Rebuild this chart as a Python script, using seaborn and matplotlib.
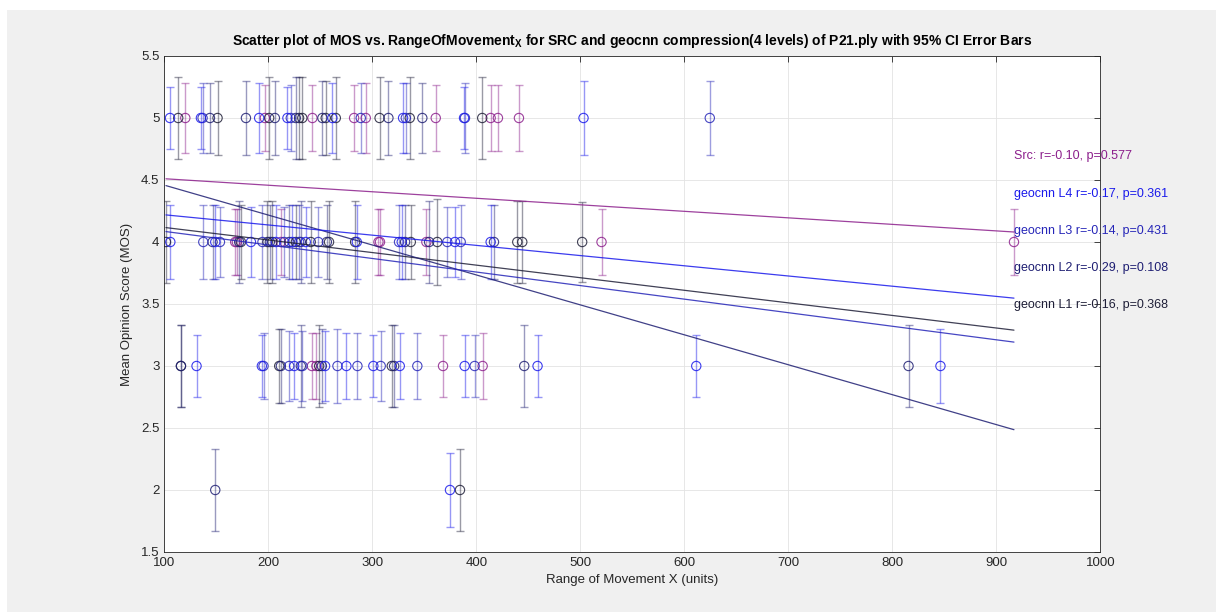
import numpy as np
import pandas as pd
import matplotlib
matplotlib.use("Agg")
import matplotlib.pyplot as plt
import seaborn as sns
from matplotlib.patches import Rectangle

# ---------------------------------------------------------------------
# MOS vs. range of movement (X) per point, grouped by compression level
# ---------------------------------------------------------------------
src_x = [120.2, 196.7, 242.4, 282.5, 293.7, 361.0, 413.8, 420.8, 441.0,
         168.2, 169.8, 212.1, 305.9, 307.4, 352.0, 520.4, 917.0,
         241.9, 246.3, 368.0, 406.1]
src_mos = [5, 5, 5, 5, 5, 5, 5, 5, 5,
           4, 4, 4, 4, 4, 4, 4, 4,
           3, 3, 3, 3]
src_ci = [0.28, 0.27, 0.27, 0.27, 0.28, 0.27, 0.27, 0.27, 0.27,
          0.27, 0.27, 0.27, 0.27, 0.27, 0.27, 0.27, 0.27,
          0.27, 0.27, 0.25, 0.27]

l1_x = [113.4, 151.2, 200.8, 229.6, 232.7, 255.2, 264.9, 307.0, 336.0, 405.7,
        101.6, 173.7, 199.2, 204.0, 226.5, 240.8, 258.4, 283.5, 337.0, 362.5,
        439.4, 444.2, 501.8,
        116.0, 210.5, 248.9, 318.7,
        384.3]
l1_mos = [5, 5, 5, 5, 5, 5, 5, 5, 5, 5,
          4, 4, 4, 4, 4, 4, 4, 4, 4, 4,
          4, 4, 4,
          3, 3, 3, 3,
          2]
l1_ci = [0.33, 0.30, 0.33, 0.33, 0.33, 0.30, 0.33, 0.33, 0.33, 0.33,
         0.33, 0.30, 0.33, 0.33, 0.30, 0.33, 0.33, 0.33, 0.30, 0.35,
         0.33, 0.33, 0.32,
         0.33, 0.30, 0.33, 0.33,
         0.33]

l2_x = [143.9, 178.5, 206.3, 226.4, 252.0, 315.5, 348.1,
        146.4, 172.0, 201.5, 220.1, 231.2, 256.3, 331.5, 354.6, 417.0,
        116.0, 212.1, 231.3, 251.5, 321.0, 446.1, 815.6,
        149.0]
l2_mos = [5, 5, 5, 5, 5, 5, 5,
          4, 4, 4, 4, 4, 4, 4, 4, 4,
          3, 3, 3, 3, 3, 3, 3,
          2]
l2_ci = [0.28, 0.30, 0.30, 0.33, 0.30, 0.30, 0.28,
         0.30, 0.33, 0.30, 0.30, 0.33, 0.30, 0.30, 0.33, 0.30,
         0.33, 0.30, 0.33, 0.30, 0.33, 0.33, 0.33,
         0.33]

l3_x = [136.8, 221.6, 288.9, 332.2, 389.1, 624.5,
        137.5, 153.5, 194.4, 215.2, 229.6, 248.1, 325.7, 372.1, 385.0,
        195.4, 220.1, 232.8, 266.5, 285.7, 308.1, 343.3, 398.4]
l3_mos = [5, 5, 5, 5, 5, 5,
          4, 4, 4, 4, 4, 4, 4, 4, 4,
          3, 3, 3, 3, 3, 3, 3, 3]
l3_ci = [0.28, 0.27, 0.28, 0.28, 0.28, 0.30,
         0.30, 0.28, 0.30, 0.28, 0.30, 0.28, 0.30, 0.28, 0.30,
         0.27, 0.28, 0.28, 0.30, 0.27, 0.28, 0.27, 0.25]

l4_x = [105.5, 135.2, 191.2, 218.4, 261.6, 329.6, 388.2, 503.1,
        105.8, 149.0, 183.3, 207.3, 223.2, 236.0, 285.1, 328.3, 379.5, 413.8,
        131.0, 193.8, 224.9, 254.6, 275.1, 301.0, 326.4, 388.8, 458.9, 611.5,
        846.3,
        374.7]
l4_mos = [5, 5, 5, 5, 5, 5, 5, 5,
          4, 4, 4, 4, 4, 4, 4, 4, 4, 4,
          3, 3, 3, 3, 3, 3, 3, 3, 3, 3,
          3,
          2]
l4_ci = [0.25, 0.25, 0.28, 0.25, 0.28, 0.28, 0.25, 0.30,
         0.30, 0.30, 0.28, 0.30, 0.30, 0.28, 0.30, 0.30, 0.28, 0.30,
         0.25, 0.25, 0.27, 0.28, 0.27, 0.25, 0.27, 0.25, 0.25, 0.25,
         0.30,
         0.30]

# regression lines (intercept, slope) and the stats shown at the right
groups = ["Src", "geocnn L1", "geocnn L2", "geocnn L3", "geocnn L4"]
fit_intercept = [4.563, 4.219, 4.700, 4.195, 4.302]
fit_slope = [-0.000526, -0.001014, -0.002414, -0.001093, -0.000823]
r_vals = [-0.10, -0.16, -0.29, -0.14, -0.17]
p_vals = [0.577, 0.368, 0.108, 0.431, 0.361]

colors = {
    "Src": (0.55, 0.12, 0.55),
    "geocnn L1": (0.12, 0.12, 0.22),
    "geocnn L2": (0.12, 0.12, 0.45),
    "geocnn L3": (0.15, 0.15, 0.72),
    "geocnn L4": (0.10, 0.10, 0.92),
}

series = {
    "Src": (src_x, src_mos, src_ci),
    "geocnn L1": (l1_x, l1_mos, l1_ci),
    "geocnn L2": (l2_x, l2_mos, l2_ci),
    "geocnn L3": (l3_x, l3_mos, l3_ci),
    "geocnn L4": (l4_x, l4_mos, l4_ci),
}

rows = []
for g, (xs, ys, cs) in series.items():
    for xv, yv, cv in zip(xs, ys, cs):
        rows.append({"group": g, "x": xv, "mos": yv, "ci": cv})
df = pd.DataFrame(rows)

# ---------------------------------------------------------------------
# Plot
# ---------------------------------------------------------------------
sns.set_style("white")
plt.rcParams["font.family"] = ["Liberation Sans", "DejaVu Sans"]
plt.rcParams["mathtext.default"] = "regular"

fig = plt.figure(figsize=(12.16, 6.12), dpi=100)
fig.patch.set_facecolor("white")
fig.patches.append(Rectangle((7 / 1216, 0), 1, 602 / 612, transform=fig.transFigure,
                             facecolor="#f0f0f0", edgecolor="none", zorder=-10))
ax = fig.add_axes([164.3 / 1216, 1 - 552 / 612, 936 / 1216, 496 / 612])
ax.set_facecolor("white")

x_lo, x_hi = df["x"].min(), df["x"].max()

for g in groups:
    d = df[df["group"] == g]
    c = colors[g]
    ax.errorbar(d["x"], d["mos"], yerr=d["ci"], fmt="none", ecolor=c,
                alpha=0.45, elinewidth=1.0, capsize=3, capthick=1.0, zorder=2)
    sns.scatterplot(x="x", y="mos", data=d, ax=ax, marker="o", s=45,
                    facecolor="none", edgecolor=c, linewidth=0.8,
                    alpha=0.85, zorder=3, legend=False)

for i, g in enumerate(groups):
    xx = np.array([x_lo, x_hi])
    line_df = pd.DataFrame({"x": xx, "y": fit_intercept[i] + fit_slope[i] * xx})
    sns.lineplot(x="x", y="y", data=line_df, ax=ax, color=colors[g],
                 linewidth=0.9, alpha=0.85, zorder=4)

# stats labels stacked at the right end of the fits
label_order = ["Src", "geocnn L4", "geocnn L3", "geocnn L2", "geocnn L1"]
for k, g in enumerate(label_order):
    i = groups.index(g)
    if g == "Src":
        txt = f"Src: r={r_vals[i]:.2f}, p={p_vals[i]:.3f}"
    else:
        txt = f"{g} r={r_vals[i]:.2f}, p={p_vals[i]:.3f}"
    ax.text(x_hi, 4.69 - 0.3 * k, txt, color=colors[g], fontsize=9,
            ha="left", va="center", clip_on=False, zorder=5)

ax.set_xlim(100, 1000)
ax.set_ylim(1.5, 5.5)
ax.set_xticks(np.arange(100, 1001, 100))
ax.set_yticks(np.arange(1.5, 5.51, 0.5))
ax.set_yticklabels(["1.5", "2", "2.5", "3", "3.5", "4", "4.5", "5", "5.5"])
ax.grid(True, color="#e3e3e3", linewidth=0.6)
ax.set_axisbelow(True)
ax.tick_params(direction="in", length=4, width=0.6, labelsize=9.5,
               colors="#262626", top=True, right=True)
for sp in ax.spines.values():
    sp.set_color("#262626")
    sp.set_linewidth(0.6)

ax.set_xlabel("Range of Movement X (units)", fontsize=9.5, color="#262626", labelpad=4)
ax.set_ylabel("Mean Opinion Score (MOS)", fontsize=9.5, color="#262626", labelpad=6)
ax.set_title("Scatter plot of MOS vs. RangeOfMovement$_X$ for SRC and geocnn "
             "compression(4 levels) of P21.ply with 95% CI Error Bars",
             fontsize=10, fontweight="bold", color="#000000", pad=8,
             family=["Liberation Sans Narrow", "Liberation Sans"])

fig.savefig("out.png", dpi=100, facecolor=fig.get_facecolor())
